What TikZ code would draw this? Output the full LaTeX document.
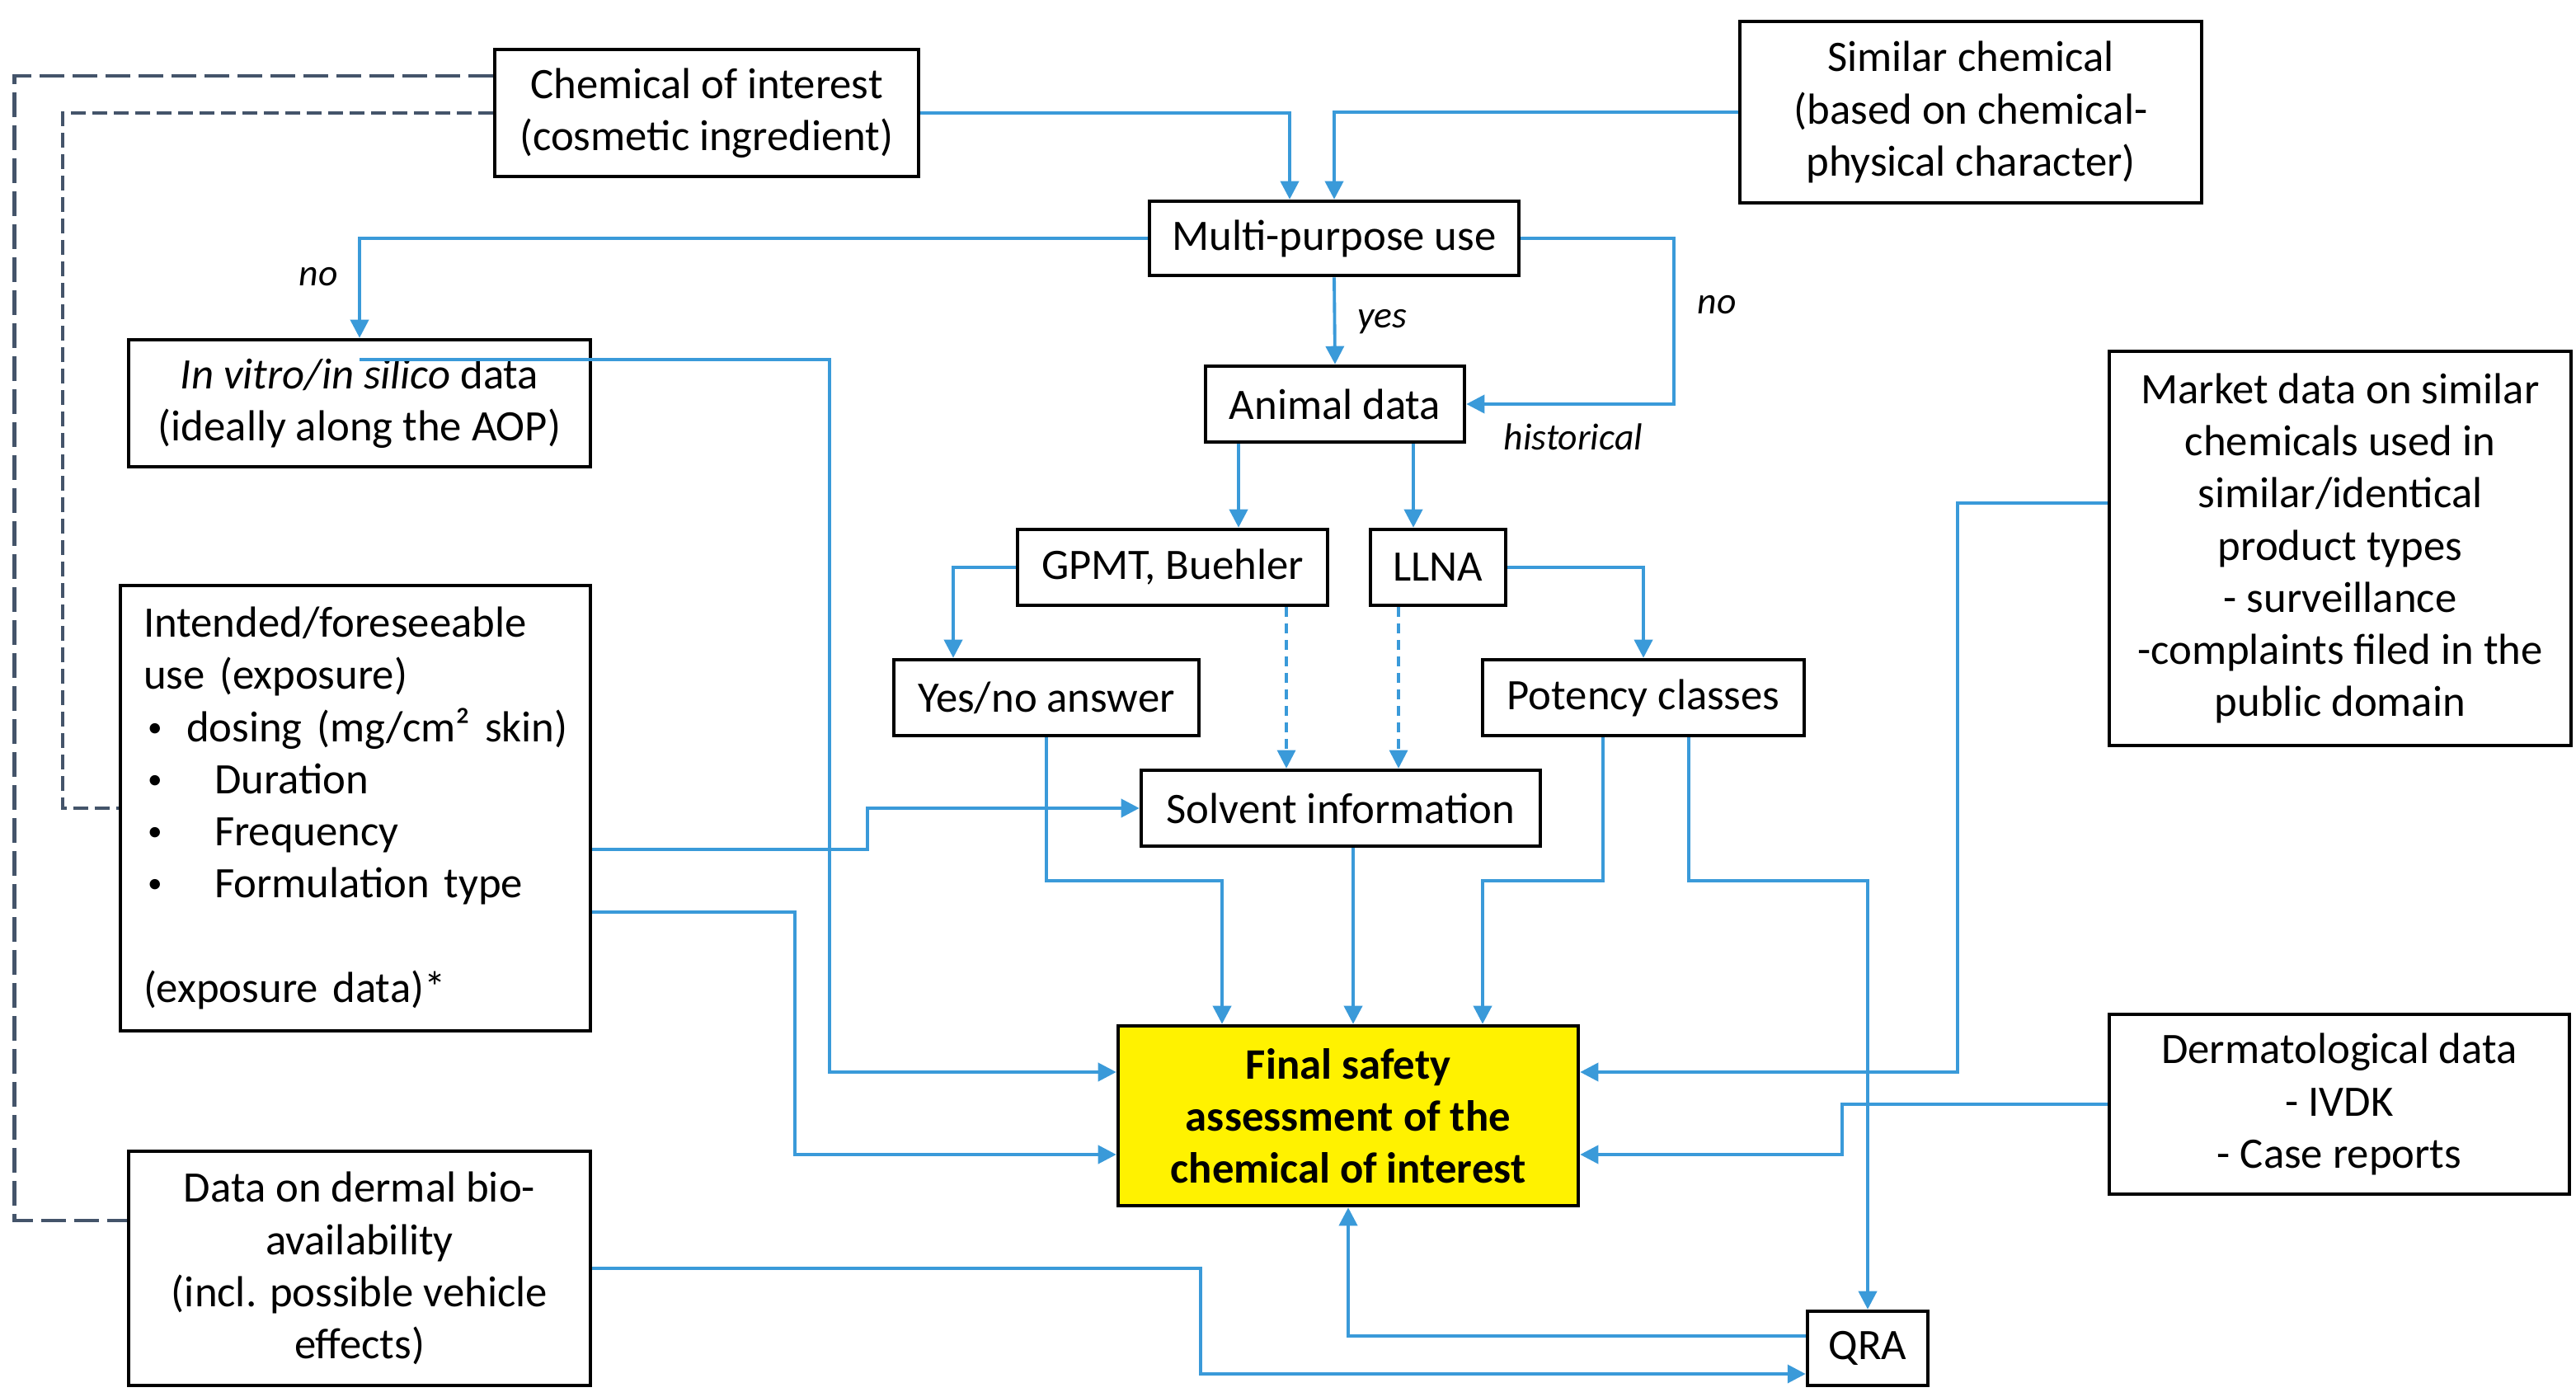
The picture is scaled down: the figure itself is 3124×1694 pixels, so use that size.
\documentclass[tikz,border=0pt]{standalone}
\usepackage{fontspec}
\setmainfont{Carlito}
\usetikzlibrary{arrows.meta,calc}

\definecolor{flowblue}{RGB}{58,154,217}
\definecolor{linkgray}{RGB}{68,84,106}

\newcommand{\bulletitem}[1]{\makebox[#1][l]{\hspace{0.5mm}\raisebox{0.6mm}{\fontsize{10pt}{10pt}\selectfont•}}}

\tikzset{
	box/.style={draw, line width=1.3pt, align=center, inner sep=2pt, font=\fontsize{15pt}{18pt}\selectfont},
	flow/.style={draw=flowblue, line width=1.1pt, -{Triangle[width=2.2mm,length=2.2mm]}},
	dflow/.style={flow, line width=0.9pt, dash pattern=on 1.2mm off 0.8mm},
	link/.style={draw=linkgray, line width=1.4pt, dash pattern=on 3mm off 1mm},
	slink/.style={draw=linkgray, line width=1.1pt, dash pattern=on 1.8mm off 0.8mm},
	lbl/.style={font=\fontsize{13pt}{15pt}\selectfont\itshape}
}

\begin{document}
\begin{tikzpicture}[x=0.1mm, y=-0.1mm]
			%%%%% START %%%%%
			\useasboundingbox (0,0) rectangle (3124,1694);
			
			\node[box, minimum width=51.4mm, minimum height=15.4mm] (chem) at (857,137) {Chemical of interest\\(cosmetic ingredient)};
			\node[box, minimum width=56mm, minimum height=22mm] (similar) at (2390,136) {Similar chemical\\(based on chemical-\\physical character)};
			\node[box, minimum width=44.8mm, minimum height=9mm] (multi) at (1618,289) {Multi-purpose use};
			\node[box, minimum width=56mm, minimum height=15.4mm] (invitro) at (436,489) {\textit{In vitro/in silico} data\\(ideally along the AOP)};
			\node[box, minimum width=31.4mm, minimum height=9.2mm] (animal) at (1619,490) {Animal data};
			\node[box, minimum width=56mm, minimum height=47.8mm] (market) at (2838,665) {Market data on similar\\chemicals used in\\similar/identical\\product types\\- surveillance\\-complaints filed in the\\public domain};
			\node[box, minimum width=37.6mm, minimum height=9.2mm] (gpmt) at (1422,688) {GPMT, Buehler};
			\node[box, minimum width=16.4mm, minimum height=9.2mm] (llna) at (1744,688) {LLNA};
			\node[box, align=left, inner xsep=2.8mm, text width=51.4mm, minimum height=54mm] (intended) at (431,980) {Intended/foreseeable\\use (exposure)\\\mbox{\bulletitem{5.2mm}dosing (mg/cm² skin)}\\\bulletitem{8.6mm}Duration\\\bulletitem{8.6mm}Frequency\\\bulletitem{8.6mm}Formulation type\\[18pt](exposure data)*};
			\node[box, minimum width=37mm, minimum height=9.2mm] (yesno) at (1269,846) {Yes/no answer};
			\node[box, minimum width=39mm, minimum height=9.2mm] (potency) at (1993,846) {Potency classes};
			\node[box, minimum width=48.4mm, minimum height=9.2mm] (solvent) at (1626,980) {Solvent information};
			\node[box, fill=yellow, minimum width=55.8mm, minimum height=21.8mm, font=\fontsize{15pt}{18pt}\selectfont\bfseries] (final) at (1635,1353) {Final safety\\assessment of the\\chemical of interest};
			\node[box, minimum width=55.8mm, minimum height=21.8mm] (derm) at (2837,1339) {Dermatological data\\- IVDK\\- Case reports};
			\node[box, minimum width=56mm, minimum height=28.4mm] (dermal) at (436,1538) {Data on dermal bio-\\availability\\(incl. possible vehicle\\effects)};
			\node[box, minimum width=14.6mm, minimum height=9mm] (qra) at (2265,1635) {QRA};
			
			\draw[link] ([yshift=4.5mm]chem.west) -- ++(-580,0) |- ([yshift=5.8mm]dermal.west);
			\draw[slink] (chem.west) -- ++(-522,0) |- (intended.west);
			
			\draw[flow] (chem.east) -| ([xshift=-5.4mm]multi.north);
			\draw[flow] (similar.west) -| (multi.north);
			\draw[flow] (multi.west) -| (invitro.north);
			\draw[flow] (multi.south) -- (animal.north);
			\draw[flow] (multi.east) -- ++(186,0) |- (animal.east);
			
			\node[lbl] (lno) at (386,336) {no};
			\node[lbl] (lyes) at (1676,390) {yes};
			\node[lbl] (rno) at (2082,370) {no};
			\node[lbl] (lhist) at (1908,530) {historical};
			
			\draw[flow] ([xshift=-11.7mm]animal.south) -- ([xshift=-11.7mm]animal.south |- gpmt.north);
			\draw[flow] ([xshift=9.5mm]animal.south) -- ([xshift=9.5mm]animal.south |- llna.north);
			\draw[flow] (gpmt.west) -| ([xshift=-11.3mm]yesno.north);
			\draw[flow] (llna.east) -| (potency.north);
			\draw[dflow] ([xshift=13.8mm]gpmt.south) -- ([xshift=13.8mm]gpmt.south |- solvent.north);
			\draw[dflow] ([xshift=-4.8mm]llna.south) -- ([xshift=-4.8mm]llna.south |- solvent.north);
			
			\draw[flow] ([yshift=-5mm]intended.east) -- ++(334,0) |- (solvent.west);
			\draw[flow] ([yshift=-12.6mm]intended.east) -- ++(246,0) |- ([yshift=-4.7mm]final.west);
			\draw[flow] ([yshift=5.3mm]invitro.center) -- ++(570,0) |- ([yshift=5.3mm]final.west);
			
			\draw[flow] (yesno.south) -- ++(0,174) -| ([xshift=-15.3mm]final.north);
			\draw[flow] ([xshift=1.5mm]solvent.south) -- ([xshift=1.5mm]solvent.south |- final.north);
			\draw[flow] ([xshift=-4.9mm]potency.south) -- ++(0,174) -| ([xshift=16.3mm]final.north);
			\draw[flow] ([xshift=5.5mm]potency.south) -- ++(0,174) -| (qra.north);
			
			\draw[flow] ([yshift=5.5mm]market.west) -- ++(-182,0) |- ([yshift=5.3mm]final.east);
			\draw[flow] (derm.west) -- ++(-322,0) |- ([yshift=-4.7mm]final.east);
			\draw[flow] ([yshift=1.5mm]qra.west) -| (final.south);
			\draw[flow] (dermal.east) -- ++(738,0) |- ([yshift=-3.1mm]qra.west);
			
			%%%%% END %%%%%
\end{tikzpicture}
\end{document}
